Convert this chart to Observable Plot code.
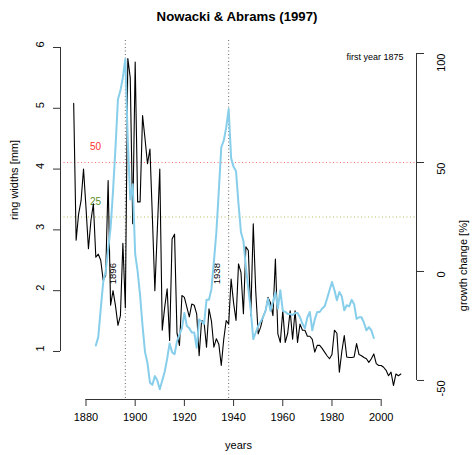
<!DOCTYPE html>
<html>
<head>
<meta charset="utf-8">
<script src="https://cdn.jsdelivr.net/npm/d3@7"></script>
<script src="https://cdn.jsdelivr.net/npm/@observablehq/plot@0.6"></script>
<style>
  body { margin: 0; background: #fff; font-family: "Liberation Sans", Arial, sans-serif; }
  #title { width: 472px; height: 30px; line-height: 34px; text-align: center; font-weight: bold; font-size: 13.2px; padding-left: 2px; box-sizing: border-box; }
</style>
</head>
<body>
<div id="title">Nowacki &amp; Abrams (1997)</div>
<div id="chart"></div>
<script>
// ---- data ----
const firstYear = 1875;
const ringWidths = [
  5.08, 2.83, 3.26, 3.48, 4.00, 3.37, 2.69, 3.15, 3.43, 2.55,
  2.60, 2.50, 2.17, 2.25, 3.81, 1.76, 2.00, 1.75, 1.43, 1.59,
  2.78, 1.72, 5.82, 5.50, 3.10, 5.76, 3.46, 3.46, 4.88, 4.50,
  4.09, 4.33, 3.20, 2.00, 3.00, 4.00, 1.35, 1.73, 2.03, 1.18,
  2.85, 2.93, 1.30, 1.10, 1.92, 1.89, 1.73, 1.57, 1.78, 1.76,
  1.62, 0.93, 1.51, 1.48, 1.07, 1.70, 1.50, 1.07, 1.21, 1.12,
  0.77, 1.20, 1.51, 1.45, 2.19, 1.80, 1.51, 2.44, 2.30, 1.62,
  2.72, 2.66, 1.59, 3.10, 2.00, 1.29, 1.40, 1.57, 1.67, 1.89,
  1.80, 1.59, 2.52, 1.29, 1.15, 1.67, 1.15, 1.30, 1.67, 1.20,
  1.67, 1.15, 1.45, 1.35, 1.35, 1.25, 1.25, 1.20, 0.99, 1.10,
  1.10, 1.05, 0.99, 0.93, 0.88, 0.95, 1.35, 1.30, 0.66, 1.00,
  1.26, 0.91, 0.90, 0.90, 0.91, 1.13, 0.95, 0.93, 0.90, 0.88,
  0.82, 0.88, 0.96, 0.80, 0.77, 0.77, 0.74, 0.69, 0.60, 0.66,
  0.44, 0.63, 0.60, 0.63
];
const rwYears = ringWidths.map((d, i) => firstYear + i);

const gcFirstYear = 1884;
const growthChange = [
  -34, -30, -17, -5, 0, 10, 20, 37, 57, 79,
  83, 89, 97.5, 60, 33, 40, 8, 0, -11, -25,
  -37, -42, -51, -52, -48, -50, -54, -50, -46, -40,
  -33, -37, -38, -32, -29, -26, -19, -25, -26, -28,
  -28, -35, -22, -23, -24, -13, -13, -8, 4.5, 18,
  37, 57, 60, 66, 74.5, 52, 48, 46, 31, 18,
  14, 2, -8, -18, -31, -28, -25, -23, -21, -18,
  -12.5, -18, -14, -9.5, -17, -8.6, -18, -18.5, -19.5, -19.5,
  -20, -19, -19, -21, -24, -26, -21, -18.6, -27, -22,
  -18.6, -18.6, -17, -16, -12.5, -8.6, -4.8, -8.6, -13.2, -9.4,
  -11.5, -17.8, -15.5, -16, -13, -15, -21.7, -21, -21, -23.5,
  -27, -25.5, -27, -30.5
];
const gcYears = growthChange.map((d, i) => gcFirstYear + i);

const releaseYears = [1896, 1938];
const thresholdLevels = [50, 25];
const thresholdColors = ["#ff3030", "#5a8f1f"];
const xTicks = [1880, 1900, 1920, 1940, 1960, 1980, 2000];
const rwTicks = [1, 2, 3, 4, 5, 6];
const gcTicks = [-50, 0, 50, 100];

// ---- scales ----
const xDomain = [1869.64, 2014.36];
const yDomain = [0.21, 6.115];
// growth change (%) mapped onto ring-width units (second axis)
const gcToRw = d3.scaleLinear().domain([-50, 100]).range([0.523, 5.901]);

const rwData = ringWidths.map((v, i) => ({year: rwYears[i], value: v}));
const gcData = growthChange.map((v, i) => ({year: gcYears[i], value: gcToRw(v)}));

const font = "'Liberation Sans', Arial, sans-serif";

const chart = Plot.plot({
  width: 472,
  height: 425,
  marginLeft: 60,
  marginRight: 56,
  marginTop: 10,
  marginBottom: 56,
  x: {domain: xDomain},
  y: {domain: yDomain},
  style: {fontFamily: font, fontSize: "11px", background: "white", overflow: "visible"},
  marks: [
    // release year markers
    Plot.ruleX(releaseYears, {x: d => d, stroke: "#666", strokeWidth: 1, strokeDasharray: "1,2.5"}),
    Plot.text(releaseYears, {x: d => d, y: 2.28, text: d => String(d), rotate: -90, dx: -12, fontSize: 9.5, fill: "#000"}),
    // threshold lines
    Plot.ruleY([thresholdLevels[0]], {y: d => gcToRw(d), stroke: thresholdColors[0], strokeOpacity: 0.7, strokeDasharray: "1,2.5"}),
    Plot.ruleY([thresholdLevels[1]], {y: d => gcToRw(d), stroke: "#9ab83a", strokeOpacity: 0.8, strokeDasharray: "1,2.5"}),
    Plot.text([thresholdLevels[0]], {x: 1883.9, y: d => gcToRw(d), text: d => String(d), dy: -15.5, fill: thresholdColors[0], fontSize: 10}),
    Plot.text([thresholdLevels[1]], {x: 1883.9, y: d => gcToRw(d), text: d => String(d), dy: -15.5, fill: thresholdColors[1], fontSize: 10}),
    // series
    Plot.line(rwData, {x: "year", y: "value", stroke: "#000", strokeWidth: 1.1}),
    Plot.line(gcData, {x: "year", y: "value", stroke: "skyblue", strokeWidth: 2}),
    // x axis
    Plot.axisX({ticks: xTicks, tickSize: 7, tickFormat: () => "", label: null, stroke: "#333"}),
    Plot.ruleY([yDomain[0]], {x1: xTicks[0], x2: xTicks[xTicks.length - 1], stroke: "#333"}),
    Plot.text(xTicks, {x: d => d, text: d => String(d), frameAnchor: "bottom", dy: 21, fontSize: 11}),
    Plot.text(["years"], {frameAnchor: "bottom", dy: 49, text: d => d, fontSize: 11}),
    // left axis
    Plot.axisY({anchor: "left", ticks: rwTicks, tickSize: 7, tickFormat: () => "", label: null, stroke: "#333"}),
    Plot.ruleX([xDomain[0]], {y1: rwTicks[0], y2: rwTicks[rwTicks.length - 1], stroke: "#333"}),
    Plot.text(rwTicks, {y: d => d, text: d => String(d), frameAnchor: "left", dx: -20, rotate: -90, fontSize: 11}),
    Plot.text(["ring widths [mm]"], {frameAnchor: "left", dx: -46, rotate: -90, text: d => d, fontSize: 11}),
    // right axis
    Plot.axisY({anchor: "right", ticks: gcTicks.map(gcToRw), tickSize: 7, tickFormat: () => "", label: null, stroke: "#333"}),
    Plot.ruleX([xDomain[1]], {y1: gcToRw(gcTicks[0]), y2: gcToRw(gcTicks[gcTicks.length - 1]), stroke: "#333"}),
    Plot.text(gcTicks, {y: d => gcToRw(d), text: d => String(d), frameAnchor: "right", dx: 25, rotate: -90, fontSize: 11}),
    Plot.text(["growth change [%]"], {frameAnchor: "right", dx: 47, rotate: -90, text: d => d, fontSize: 11}),
    // legend text
    Plot.text([`first year ${firstYear}`], {frameAnchor: "top-right", dx: -13, dy: 13, textAnchor: "end", text: d => d, fontSize: 9})
  ]
});
document.getElementById("chart").appendChild(chart);
</script>
</body>
</html>
